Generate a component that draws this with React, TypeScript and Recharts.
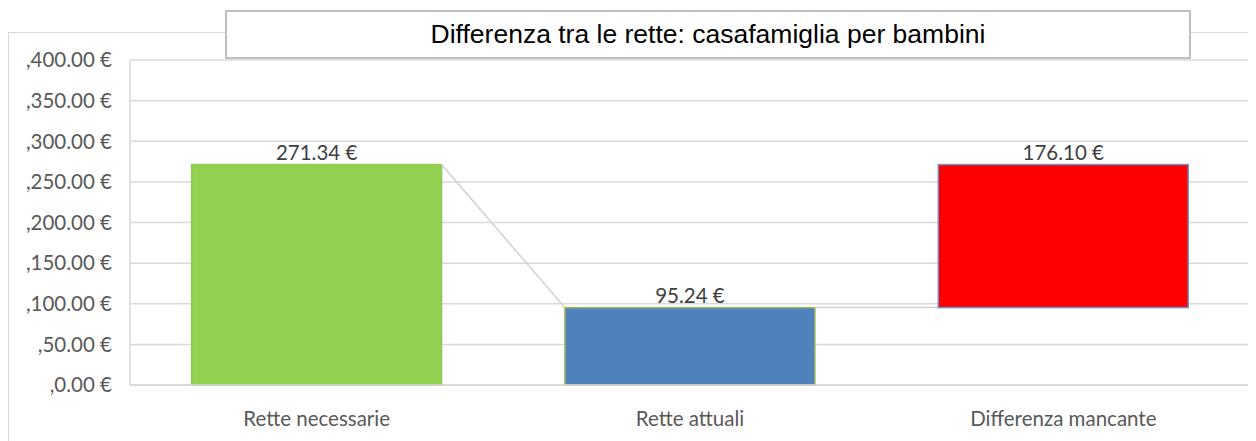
import { BarChart, Bar, XAxis, YAxis, CartesianGrid, LabelList } from 'recharts'

const categories = ['Rette necessarie', 'Rette attuali', 'Differenza mancante']
const baseValues = [0, 0, 95.24]
const barValues = [271.34, 95.24, 176.1]
// connector line: from the top of the previous bar to this level on the current bar
const connectorTo: (number | null)[] = [null, 95.24, 95.24]
const yTicks = [0, 50, 100, 150, 200, 250, 300, 350, 400]

const fills = ['#92d050', '#4f81bd', '#ff0000']
const strokes = ['#8fc85a', '#9bbb59', '#6a95cc']

const data = categories.map((name, i) => ({
  name,
  base: baseValues[i],
  value: barValues[i],
  connectFrom: i > 0 ? baseValues[i - 1] + barValues[i - 1] : null,
  connectTo: connectorTo[i],
}))

const W = 1248
const H = 433
const MARGIN = { top: 52, right: 6, left: 0, bottom: 26 }
const Y_W = 122
const PLOT_W = W - MARGIN.left - MARGIN.right - Y_W
const BAND = PLOT_W / categories.length

const font = 'Lato, "Open Sans", sans-serif'
const FS = 20.5
const euro = (v: number) => `${v.toFixed(2)} €`

function WaterfallBar(props: any) {
  const { x, y, width, height, index, payload } = props
  const k = height / payload.value
  const bottom = y + height
  const yAt = (v: number) => bottom - (v - payload.base) * k
  return (
    <g>
      {payload.connectTo != null && (
        <line
          x1={x - (BAND - width)}
          y1={yAt(payload.connectFrom)}
          x2={x}
          y2={yAt(payload.connectTo)}
          stroke="#d0d0d0"
          strokeWidth={1.5}
        />
      )}
      <rect x={x} y={y} width={width} height={height} fill={fills[index]} stroke={strokes[index]} strokeWidth={1.5} />
    </g>
  )
}

export default function App() {
  return (
    <div style={{ position: 'relative', width: W, height: H, overflow: 'hidden', background: '#fff' }}>
      <div
        style={{
          position: 'absolute',
          left: 0,
          top: 24,
          width: 1400,
          height: 600,
          border: '1px solid #d9d9d9',
          boxSizing: 'border-box',
        }}
      />
      <div style={{ position: 'absolute', left: 0, top: 0 }}>
        <BarChart width={W} height={H} data={data} margin={MARGIN} barCategoryGap="16.5%">
          <CartesianGrid vertical={false} stroke="#d9d9d9" strokeWidth={1.5} />
          <XAxis
            dataKey="name"
            tickLine={false}
            axisLine={{ stroke: '#d9d9d9', strokeWidth: 1.5 }}
            tickSize={0}
            tickMargin={26}
            tick={{ fill: '#595959', fontSize: FS, fontFamily: font }}
          />
          <YAxis
            width={Y_W}
            domain={[0, 400]}
            ticks={yTicks}
            interval={0}
            tickFormatter={(v: number) => ',' + euro(v)}
            tickLine={false}
            axisLine={{ stroke: '#d9d9d9', strokeWidth: 1.5 }}
            tickSize={0}
            tickMargin={18}
            tick={{ fill: '#595959', fontSize: FS, fontFamily: font }}
          />
          <Bar dataKey="base" stackId="w" fill="transparent" isAnimationActive={false} />
          <Bar dataKey="value" stackId="w" shape={WaterfallBar} isAnimationActive={false}>
            <LabelList
              dataKey="value"
              position="top"
              offset={5}
              formatter={(v: any) => euro(Number(v))}
              style={{ fill: '#404040', fontSize: FS, fontFamily: font }}
            />
          </Bar>
        </BarChart>
      </div>
      <div
        style={{
          position: 'absolute',
          left: 217,
          top: 2,
          width: 966,
          height: 49,
          border: '2px solid #bfbfbf',
          boxSizing: 'border-box',
          background: '#fff',
          display: 'flex',
          alignItems: 'center',
          justifyContent: 'center',
          fontFamily: '"Liberation Sans", Arial, sans-serif',
          fontSize: 26.5,
          color: '#000',
        }}
      >
        Differenza tra le rette: casafamiglia per bambini
      </div>
    </div>
  )
}
